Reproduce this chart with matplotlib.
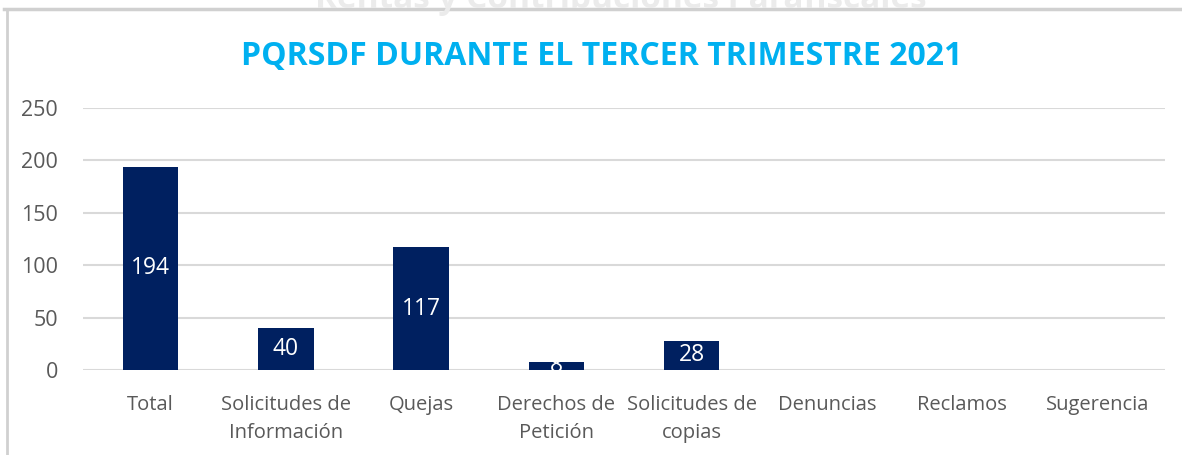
import matplotlib.pyplot as plt
from matplotlib.lines import Line2D

plt.rcParams["font.family"] = ["Open Sans", "DejaVu Sans"]

categories = ["Total", "Solicitudes de\nInformación", "Quejas", "Derechos de\nPetición",
              "Solicitudes de\ncopias", "Denuncias", "Reclamos", "Sugerencia"]
values = [194, 40, 117, 8, 28, 0, 0, 0]
yticks = [0, 50, 100, 150, 200, 250]

NAVY = "#002060"
GRAY = "#595959"

fig = plt.figure(figsize=(11.82, 4.55), dpi=100)
ax = fig.add_axes([0.0702, 0.1868, 0.9154, 0.5758])

x = range(len(categories))
bars = ax.bar(x, values, width=0.41, color=NAVY, zorder=3)
for b, v in zip(bars, values):
    if v > 0:
        ax.text(b.get_x() + b.get_width() / 2, v / 2, str(v), ha="center", va="center",
                color="white", fontsize=16.5, zorder=4)

ax.set_xlim(-0.5, len(categories) - 0.5)
ax.set_ylim(0, 250)
ax.set_yticks(yticks)
ax.set_xticks(list(x))
ax.set_xticklabels(categories, fontsize=14.5, color=GRAY, linespacing=1.55)
ax.tick_params(axis="y", labelsize=15.5, colors=GRAY, length=0, pad=18)
ax.tick_params(axis="x", length=0, pad=18)
ax.grid(axis="y", color="#D9D9D9", lw=1.5, zorder=0)
for s in ax.spines.values():
    s.set_visible(False)

ax.set_title("PQRSDF DURANTE EL TERCER TRIMESTRE 2021", color="#00B0F0",
             fontsize=23, fontweight="bold", pad=31, x=0.479)

# faint text of the page above, cut by the frame
fig.text(0.525, 0.982, "Rentas y Contribuciones Parafiscales", ha="center", va="baseline",
         fontsize=24, fontweight="bold", color="#EBEBEB")

# chart frame
fig.add_artist(Line2D([0.003, 1.0], [0.980, 0.980], color="#D0D0D0", lw=2.5))
fig.add_artist(Line2D([0.006, 0.006], [0.0, 0.980], color="#D0D0D0", lw=2))

fig.savefig("out.png", dpi=100, facecolor="white")
